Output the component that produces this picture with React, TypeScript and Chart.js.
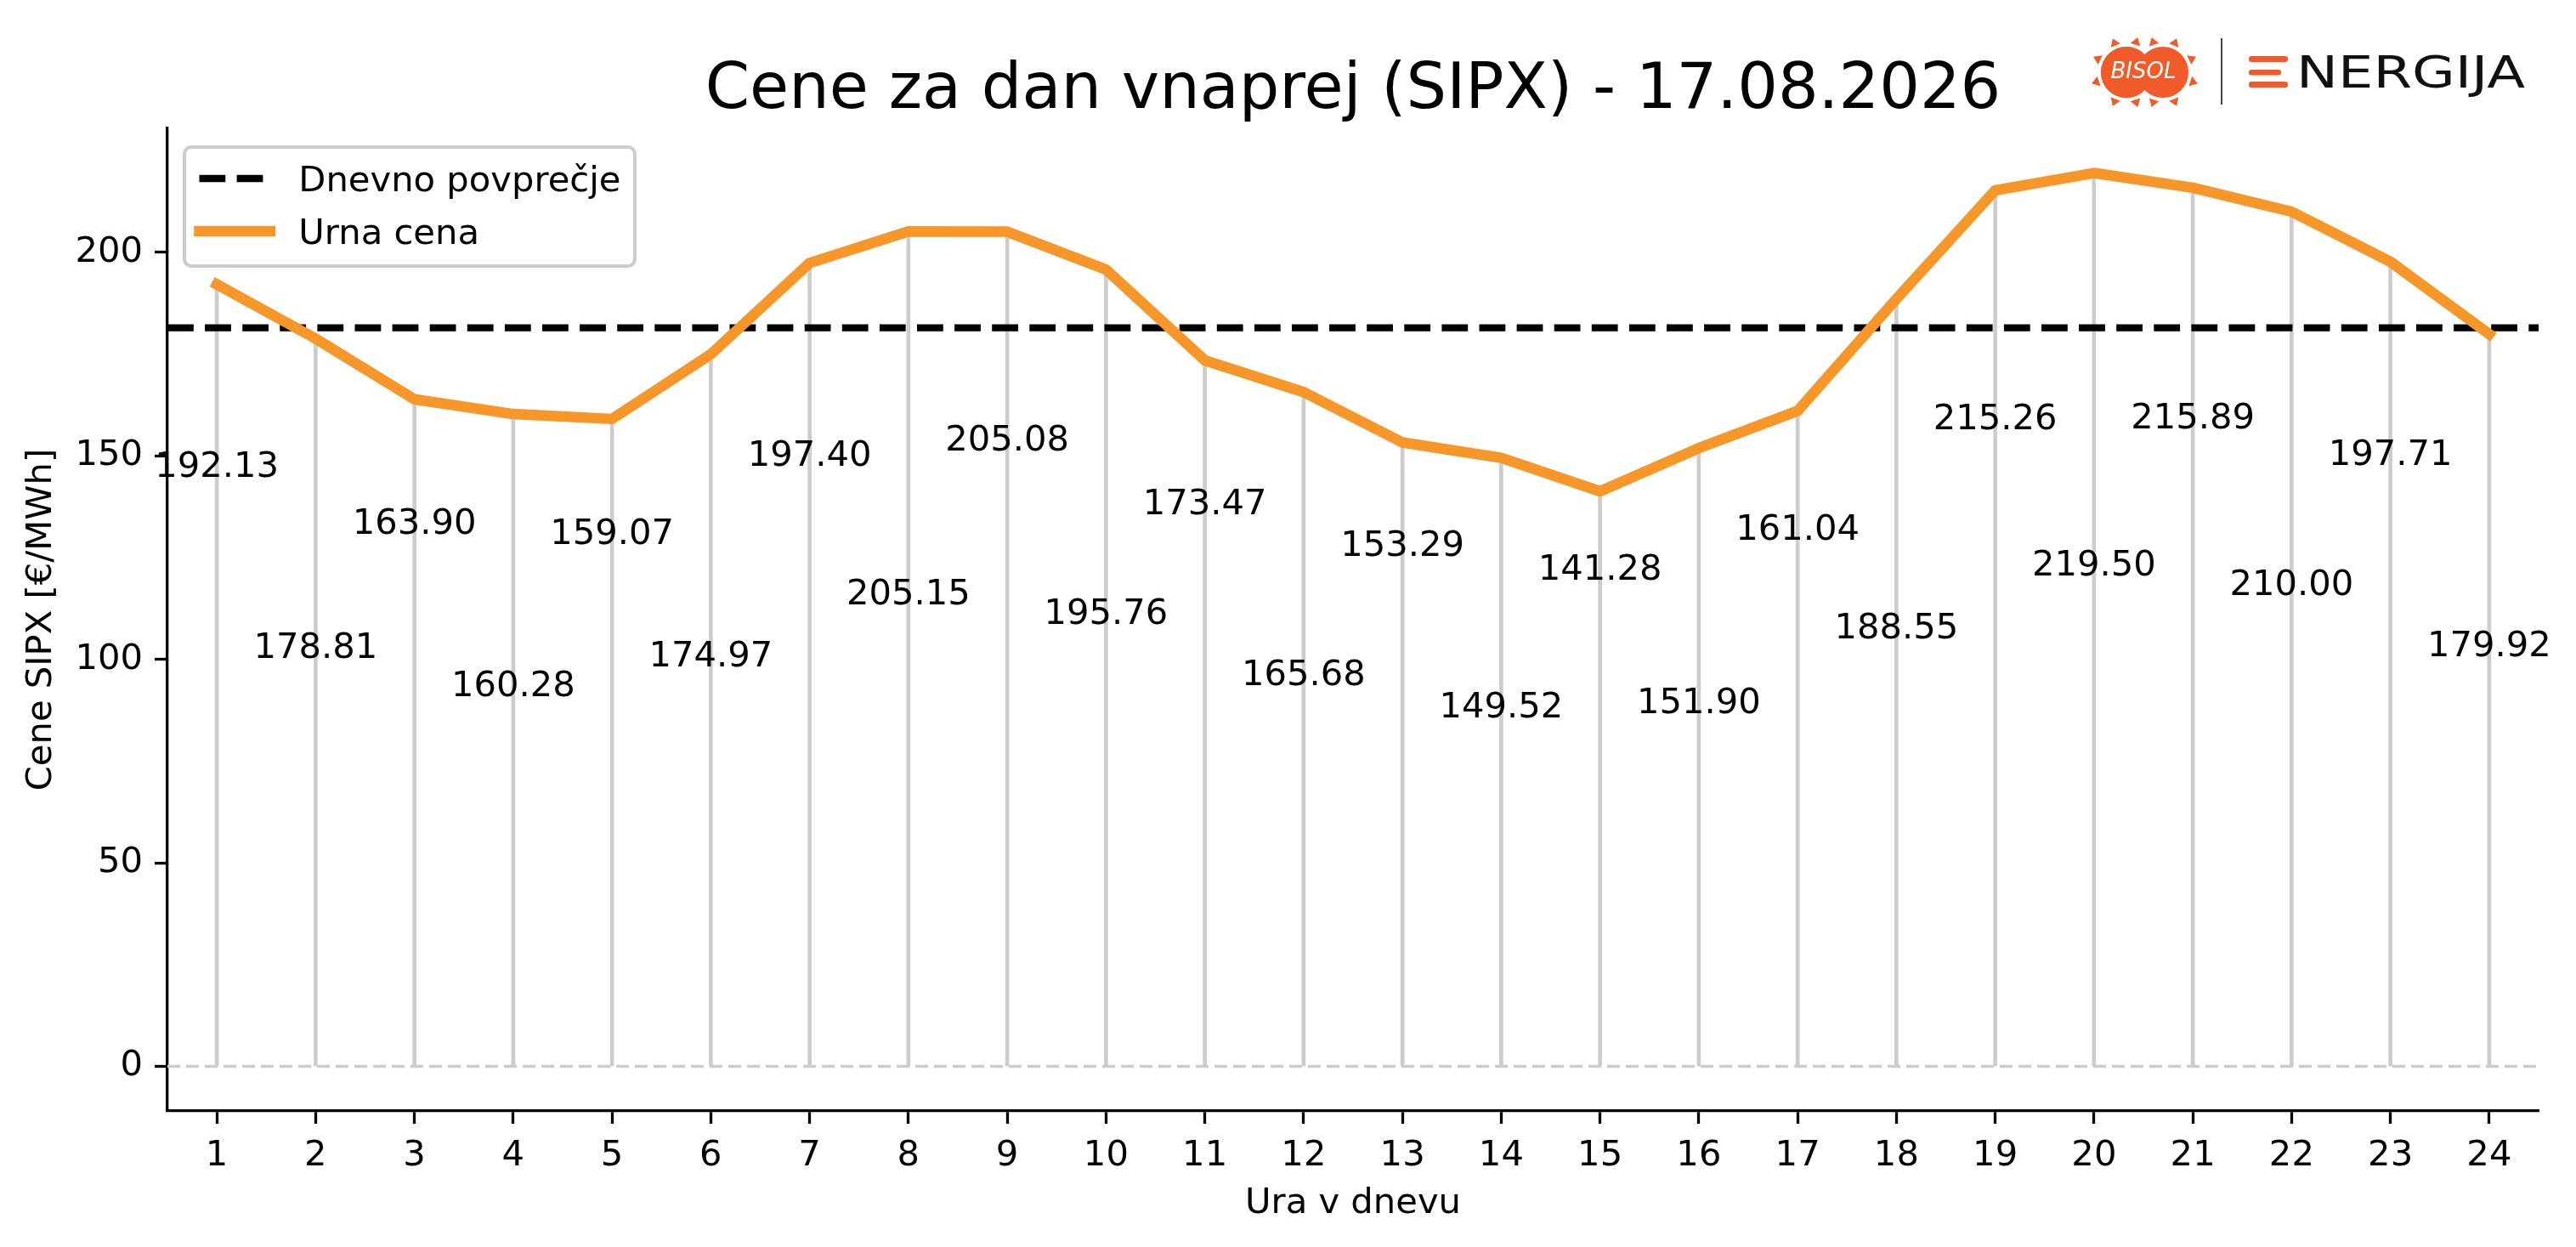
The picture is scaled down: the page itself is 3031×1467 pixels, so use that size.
import { useEffect, useRef } from "react";
import { Chart, registerables } from "chart.js";

Chart.register(...registerables);

// hourly day-ahead prices (EUR/MWh)
const HOURS = [1, 2, 3, 4, 5, 6, 7, 8, 9, 10, 11, 12, 13, 14, 15, 16, 17, 18, 19, 20, 21, 22, 23, 24];
const PRICES = [
  192.13, 178.81, 163.9, 160.28, 159.07, 174.97, 197.4, 205.15, 205.08, 195.76, 173.47, 165.68,
  153.29, 149.52, 141.28, 151.9, 161.04, 188.55, 215.26, 219.5, 215.89, 210.0, 197.71, 179.92,
];
const DAILY_AVERAGE = 181.48;
const Y_TICKS = [0, 50, 100, 150, 200];

const TITLE = "Cene za dan vnaprej (SIPX) - 17.08.2026";
const X_TITLE = "Ura v dnevu";
const Y_TITLE = "Cene SIPX [€/MWh]";
const LEGEND_AVG = "Dnevno povprečje";
const LEGEND_PRICE = "Urna cena";

// axis limits
const X_MIN = 0.5;
const X_MAX = 24.5;
const Y_MIN = -10.975;
const Y_MAX = 230.475;

const FONT = "'DejaVu Sans'";
const FS = 41.7;
const ORANGE = "#f7972a";
const STEM = "#cccccc";
const AVG_DASH = [30.8, 13.3];

const overlayPlugin = {
  id: "overlay",
  afterDatasetsDraw(chart: any) {
    const { ctx, chartArea } = chart;
    const xs = chart.scales.x;
    const ys = chart.scales.y;
    ctx.save();

    // value labels, staggered between odd and even hours
    ctx.font = `${FS}px ${FONT}`;
    ctx.fillStyle = "#000";
    ctx.textAlign = "center";
    ctx.textBaseline = "alphabetic";
    PRICES.forEach((p, i) => {
      const lift = i % 2 === 0 ? 52 : 14;
      const px = xs.getPixelForValue(HOURS[i]);
      const py = ys.getPixelForValue(p / 2 + lift);
      ctx.fillText(p.toFixed(2), px, py + 15);
    });

    // title
    ctx.font = `75px ${FONT}`;
    ctx.fillText(TITLE, (chartArea.left + chartArea.right) / 2, 127);

    // legend
    ctx.font = `${FS}px ${FONT}`;
    const x0 = chartArea.left + 20;
    const y0 = chartArea.top + 22;
    const textW = Math.max(ctx.measureText(LEGEND_AVG).width, ctx.measureText(LEGEND_PRICE).width);
    const w = 17 + 83.4 + 33.4 + textW + 17;
    const h = 140;
    ctx.beginPath();
    ctx.roundRect(x0, y0, w, h, 8);
    ctx.fillStyle = "rgba(255,255,255,0.8)";
    ctx.fill();
    ctx.lineWidth = 4;
    ctx.strokeStyle = STEM;
    ctx.stroke();

    const hx = x0 + 17.5;
    ctx.lineWidth = 8.3;
    ctx.strokeStyle = "#000";
    ctx.setLineDash(AVG_DASH);
    ctx.lineCap = "butt";
    ctx.beginPath();
    ctx.moveTo(hx, y0 + 37);
    ctx.lineTo(hx + 83.4, y0 + 37);
    ctx.stroke();

    ctx.setLineDash([]);
    ctx.lineWidth = 12.5;
    ctx.strokeStyle = ORANGE;
    ctx.lineCap = "square";
    ctx.beginPath();
    ctx.moveTo(hx, y0 + 99);
    ctx.lineTo(hx + 83.4, y0 + 99);
    ctx.stroke();

    ctx.fillStyle = "#000";
    ctx.textAlign = "left";
    ctx.fillText(LEGEND_AVG, hx + 83.4 + 33.4, y0 + 37 + 15);
    ctx.fillText(LEGEND_PRICE, hx + 83.4 + 33.4, y0 + 99 + 15);
    ctx.restore();
  },
};

function Logo() {
  const rays = [
    [2502, 85, -112], [2502, 85, -72], [2502, 85, -155], [2502, 85, 162], [2502, 85, 112], [2502, 85, 72],
    [2545, 85, -108], [2545, 85, -68], [2545, 85, -25], [2545, 85, 18], [2545, 85, 108], [2545, 85, 68],
  ];
  return (
    <svg
      width={3031}
      height={1467}
      style={{ position: "absolute", left: 0, top: 0, pointerEvents: "none" }}
    >
      {rays.map(([cx, cy, a], i) => {
        const r = (a * Math.PI) / 180;
        const ux = Math.cos(r);
        const uy = Math.sin(r);
        const bx = cx + ux * 34;
        const by = cy + uy * 34;
        const tx = cx + ux * 43;
        const ty = cy + uy * 43;
        const pts = `${bx - uy * 6},${by + ux * 6} ${bx + uy * 6},${by - ux * 6} ${tx},${ty}`;
        return <polygon key={i} points={pts} fill="#f15a29" />;
      })}
      <circle cx={2502} cy={85} r={31} fill="#f15a29" stroke="#fff" strokeWidth={2} />
      <circle cx={2545} cy={85} r={31} fill="#f15a29" stroke="#fff" strokeWidth={2} />
      <circle cx={2502} cy={85} r={30} fill="#f15a29" />
      <text
        x={2522}
        y={92}
        fill="#fff"
        fontFamily="DejaVu Sans"
        fontStyle="italic"
        fontSize={26}
        textAnchor="middle"
        textLength={77}
        lengthAdjust="spacingAndGlyphs"
      >
        BISOL
      </text>
      <line x1={2614} y1={45} x2={2614} y2={123} stroke="#444" strokeWidth={2} />
      <rect x={2646} y={66} width={46} height={7} rx={3} fill="#f15a29" />
      <rect x={2646} y={82} width={38} height={6.5} rx={3} fill="#f15a29" />
      <rect x={2646} y={96} width={46} height={7} rx={3} fill="#f15a29" />
      <text
        x={2702}
        y={103}
        fill="#111"
        fontFamily="DejaVu Sans"
        fontSize={51}
        textLength={269}
        lengthAdjust="spacingAndGlyphs"
      >
        NERGIJA
      </text>
    </svg>
  );
}

export default function App() {
  const canvasRef = useRef<HTMLCanvasElement>(null);
  const chartRef = useRef<Chart | null>(null);

  useEffect(() => {
    if (!canvasRef.current) return;
    if (chartRef.current) chartRef.current.destroy();

    const tickFont = { family: FONT, size: FS };

    chartRef.current = new Chart(canvasRef.current, {
      type: "line",
      data: {
        datasets: [
          {
            label: LEGEND_PRICE,
            data: HOURS.map((h, i) => ({ x: h, y: PRICES[i] })),
            borderColor: ORANGE,
            borderWidth: 12.5,
            borderJoinStyle: "round",
            borderCapStyle: "square",
            pointRadius: 0,
            tension: 0,
            order: 1,
          },
          {
            label: LEGEND_AVG,
            data: [
              { x: X_MIN, y: DAILY_AVERAGE },
              { x: X_MAX, y: DAILY_AVERAGE },
            ],
            borderColor: "#000",
            borderWidth: 8.3,
            borderDash: AVG_DASH,
            pointRadius: 0,
            order: 2,
          },
          {
            label: "zero",
            data: [
              { x: X_MIN, y: 0 },
              { x: X_MAX, y: 0 },
            ],
            borderColor: STEM,
            borderWidth: 3.5,
            borderDash: [15, 7],
            pointRadius: 0,
            order: 3,
          },
          {
            type: "bar",
            label: "stems",
            data: HOURS.map((h, i) => ({ x: h, y: PRICES[i] })),
            backgroundColor: STEM,
            barThickness: 4,
            order: 4,
          } as any,
        ],
      },
      options: {
        responsive: false,
        devicePixelRatio: 1,
        animation: false,
        events: [],
        layout: { padding: { left: 0, right: 44, top: 151, bottom: 0 } },
        plugins: {
          legend: { display: false },
          tooltip: { enabled: false },
          title: { display: false },
        },
        scales: {
          x: {
            type: "linear",
            min: X_MIN,
            max: X_MAX,
            offset: false,
            afterFit: (s: any) => {
              s.height = 160;
            },
            afterBuildTicks: (s: any) => {
              s.ticks = HOURS.map((v) => ({ value: v }));
            },
            grid: {
              display: true,
              offset: false,
              drawOnChartArea: false,
              drawTicks: true,
              tickLength: 15,
              tickWidth: 3.3,
              tickColor: "#000",
            },
            border: { display: true, color: "#000", width: 3.3 },
            ticks: {
              color: "#000",
              font: tickFont,
              padding: 13,
              maxRotation: 0,
              autoSkip: false,
              callback: (v: any) => String(v),
            },
            title: {
              display: true,
              text: X_TITLE,
              color: "#000",
              font: tickFont,
              padding: { top: 0, bottom: 26 },
            },
          },
          y: {
            type: "linear",
            min: Y_MIN,
            max: Y_MAX,
            afterFit: (s: any) => {
              s.width = 197;
            },
            afterBuildTicks: (s: any) => {
              s.ticks = Y_TICKS.map((v) => ({ value: v }));
            },
            grid: {
              display: true,
              offset: false,
              drawOnChartArea: false,
              drawTicks: true,
              tickLength: 15,
              tickWidth: 3.3,
              tickColor: "#000",
            },
            border: { display: true, color: "#000", width: 3.3 },
            ticks: {
              color: "#000",
              font: tickFont,
              padding: 14,
              callback: (v: any) => String(v),
            },
            title: {
              display: true,
              text: Y_TITLE,
              color: "#000",
              font: tickFont,
              padding: { top: 24, bottom: 0 },
            },
          },
        },
      },
      plugins: [overlayPlugin],
    });

    return () => {
      if (chartRef.current) {
        chartRef.current.destroy();
        chartRef.current = null;
      }
    };
  }, []);

  return (
    <div
      style={{
        position: "fixed",
        left: 0,
        top: 0,
        width: 3031,
        height: 1467,
        background: "#fff",
        overflow: "hidden",
      }}
    >
      <canvas ref={canvasRef} width={3031} height={1467} style={{ width: 3031, height: 1467 }} />
      <Logo />
    </div>
  );
}
